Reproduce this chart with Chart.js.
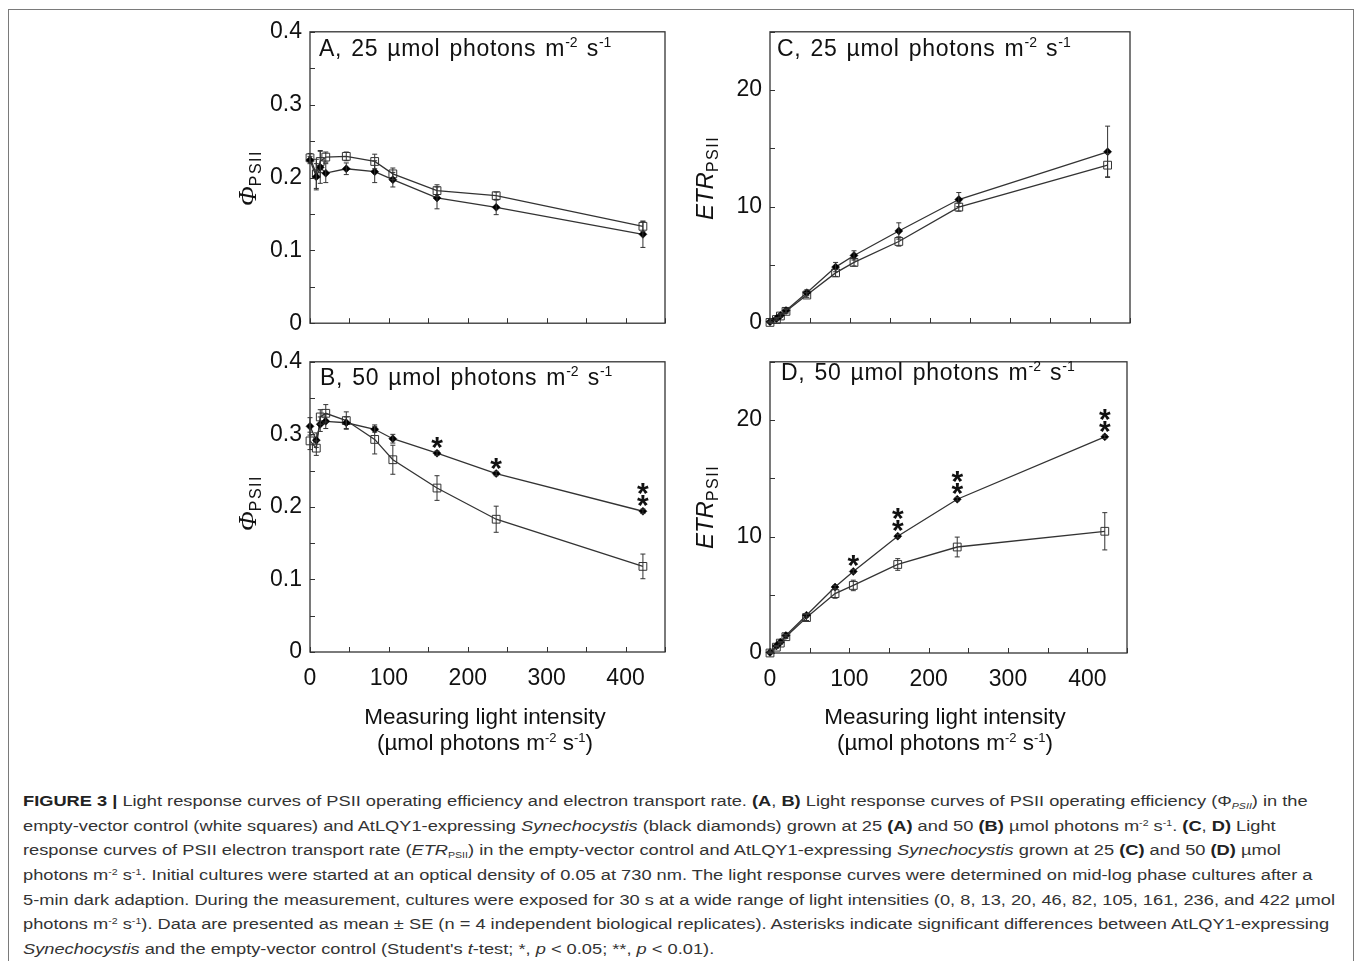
<!DOCTYPE html>
<html>
<head>
<meta charset="utf-8">
<script src="https://cdn.jsdelivr.net/npm/chart.js@4.4.1/dist/chart.umd.min.js"></script>
<style>
  html, body { margin: 0; padding: 0; background: #fff; }
  body { width: 1355px; height: 961px; overflow: hidden; position: relative; font-family: "Liberation Sans", Arial, sans-serif; color: #111; }
  .frame { position: absolute; left: 8px; top: 9px; width: 1346px; height: 1000px; border: 1px solid #7a7a7a; box-sizing: border-box; }
  canvas { position: absolute; }
  .ptitle { position: absolute; font-size: 23px; line-height: 23px; letter-spacing: 0.7px; word-spacing: 2px; white-space: nowrap; }
  .sup { font-size: 14px; position: relative; top: -9px; letter-spacing: 0; }
  .ylab { position: absolute; white-space: nowrap; transform: translate(-50%, -50%) rotate(-90deg); }
  .ylab .phi { font-family: "Liberation Serif", serif; font-style: italic; font-size: 26px; }
  .ylab .etr { font-style: italic; font-size: 24px; }
  .ylab .sub { font-size: 16px; position: relative; top: 5px; letter-spacing: 1.5px; }
  .xlab { position: absolute; width: 400px; text-align: center; font-size: 22.5px; line-height: 26px; white-space: nowrap; }
  .xlab .sup { font-size: 13px; top: -8px; }
  .caption { position: absolute; left: 23px; top: 789px; font-size: 15.5px; line-height: 24.7px; color: #333; transform-origin: 0 0; }
  .caption div { white-space: nowrap; height: 24.7px; }
  .caption .line { display: inline-block; vertical-align: top; }
  .caption b { color: #222; }
  .caption .csup { font-size: 9px; position: relative; top: -5px; }
  .caption .csub { font-size: 9px; position: relative; top: 3px; }
</style>
</head>
<body>
<div class="frame"></div>

<canvas id="chartA" width="460" height="335" style="left:220px; top:10px;"></canvas>
<canvas id="chartB" width="460" height="370" style="left:220px; top:340px;"></canvas>
<canvas id="chartC" width="465" height="335" style="left:680px; top:10px;"></canvas>
<canvas id="chartD" width="465" height="370" style="left:680px; top:340px;"></canvas>

<div class="ptitle" style="left:319px; top:37px;">A, 25 µmol photons m<span class="sup">-2</span> s<span class="sup">-1</span></div>
<div class="ptitle" style="left:320px; top:366px;">B, 50 µmol photons m<span class="sup">-2</span> s<span class="sup">-1</span></div>
<div class="ptitle" style="left:777px; top:37px;">C, 25 µmol photons m<span class="sup">-2</span> s<span class="sup">-1</span></div>
<div class="ptitle" style="left:781px; top:361px;">D, 50 µmol photons m<span class="sup">-2</span> s<span class="sup">-1</span></div>

<div class="ylab" style="left:248px; top:178px;"><span class="phi">Φ</span><span class="sub">PSII</span></div>
<div class="ylab" style="left:248px; top:503px;"><span class="phi">Φ</span><span class="sub">PSII</span></div>
<div class="ylab" style="left:705px; top:178px;"><span class="etr">ETR</span><span class="sub">PSII</span></div>
<div class="ylab" style="left:705px; top:507px;"><span class="etr">ETR</span><span class="sub">PSII</span></div>

<div class="xlab" style="left:285px; top:704px;">Measuring light intensity<br>(µmol photons m<span class="sup">-2</span> s<span class="sup">-1</span>)</div>
<div class="xlab" style="left:745px; top:704px;">Measuring light intensity<br>(µmol photons m<span class="sup">-2</span> s<span class="sup">-1</span>)</div>

<div class="caption" id="caption">
  <div><span class="line"><b>FIGURE 3 |</b> Light response curves of PSII operating efficiency and electron transport rate. <b>(A</b>, <b>B)</b> Light response curves of PSII operating efficiency (Φ<span class="csub"><i>PSII</i></span>) in the</span></div>
  <div><span class="line">empty-vector control (white squares) and AtLQY1-expressing <i>Synechocystis</i> (black diamonds) grown at 25 <b>(A)</b> and 50 <b>(B)</b> µmol photons m<span class="csup">-2</span> s<span class="csup">-1</span>. <b>(C</b>, <b>D)</b> Light</span></div>
  <div><span class="line">response curves of PSII electron transport rate (<i>ETR</i><span class="csub">PSII</span>) in the empty-vector control and AtLQY1-expressing <i>Synechocystis</i> grown at 25 <b>(C)</b> and 50 <b>(D)</b> µmol</span></div>
  <div><span class="line">photons m<span class="csup">-2</span> s<span class="csup">-1</span>. Initial cultures were started at an optical density of 0.05 at 730 nm. The light response curves were determined on mid-log phase cultures after a</span></div>
  <div><span class="line" id="longLine">5-min dark adaption. During the measurement, cultures were exposed for 30 s at a wide range of light intensities (0, 8, 13, 20, 46, 82, 105, 161, 236, and 422 µmol</span></div>
  <div><span class="line">photons m<span class="csup">-2</span> s<span class="csup">-1</span>). Data are presented as mean ± SE (n = 4 independent biological replicates). Asterisks indicate significant differences between AtLQY1-expressing</span></div>
  <div><span class="line"><i>Synechocystis</i> and the empty-vector control (Student's <i>t</i>-test; *, <i>p</i> &lt; 0.05; **, <i>p</i> &lt; 0.01).</span></div>
</div>

<script>
// measuring light intensities (µmol photons m-2 s-1)
const lightLevels = [0, 8, 13, 20, 46, 82, 105, 161, 236, 422];

// A: PhiPSII, grown at 25
const phiA_vector   = [0.227, 0.205, 0.222, 0.228, 0.229, 0.222, 0.205, 0.182, 0.175, 0.133];
const phiA_vectorSE = [0.006, 0.020, 0.015, 0.007, 0.006, 0.010, 0.008, 0.008, 0.005, 0.007];
const phiA_lqy1     = [0.224, 0.201, 0.214, 0.206, 0.212, 0.208, 0.197, 0.172, 0.159, 0.122];
const phiA_lqy1SE   = [0.005, 0.018, 0.022, 0.013, 0.008, 0.015, 0.010, 0.015, 0.010, 0.018];

// B: PhiPSII, grown at 50
const phiB_vector   = [0.291, 0.281, 0.324, 0.329, 0.319, 0.293, 0.265, 0.226, 0.183, 0.118];
const phiB_vectorSE = [0.012, 0.010, 0.010, 0.012, 0.012, 0.020, 0.020, 0.017, 0.018, 0.017];
const phiB_lqy1     = [0.311, 0.292, 0.314, 0.318, 0.316, 0.307, 0.294, 0.274, 0.246, 0.194];
const phiB_lqy1SE   = [0.012, 0.010, 0.010, 0.010, 0.008, 0.004, 0.006, 0.003, 0.003, 0.003];
const phiB_stars    = ['', '', '', '', '', '', '', '*', '*', '**'];

// C: ETRPSII, grown at 25
const etrC_vector   = [0.05, 0.30, 0.60, 1.00, 2.40, 4.30, 5.20, 7.00, 9.95, 13.55];
const etrC_vectorSE = [0.05, 0.10, 0.10, 0.15, 0.20, 0.30, 0.30, 0.40, 0.35, 1.00];
const etrC_lqy1     = [0.10, 0.37, 0.65, 1.07, 2.60, 4.80, 5.80, 7.90, 10.60, 14.70];
const etrC_lqy1SE   = [0.05, 0.10, 0.15, 0.20, 0.25, 0.40, 0.40, 0.70, 0.60, 2.20];

// D: ETRPSII, grown at 50
const etrD_vector   = [0.00, 0.50, 0.85, 1.40, 3.04, 5.10, 5.80, 7.60, 9.10, 10.45];
const etrD_vectorSE = [0.05, 0.10, 0.10, 0.15, 0.25, 0.40, 0.45, 0.50, 0.85, 1.60];
const etrD_lqy1     = [0.05, 0.60, 0.93, 1.50, 3.24, 5.66, 7.00, 10.03, 13.20, 18.56];
const etrD_lqy1SE   = [0.05, 0.05, 0.05, 0.10, 0.15, 0.15, 0.15, 0.15, 0.15, 0.15];
const etrD_stars    = ['', '', '', '', '', '', '*', '**', '**', '**'];

// axis ticks
const xTickStep = 50;
const xLabelStep = 100;
const phiTicks = { max: 0.4, step: 0.05, labelStep: 0.1 };
const etrTicks = { max: 25, step: 5, labelStep: 10 };

const INK = '#333';

// box around plot area + inward tick marks
const frameTicks = {
    id: 'frameTicks',
    afterDraw(chart) {
        const { ctx, chartArea: a, scales } = chart;
        ctx.save();
        ctx.strokeStyle = INK;
        ctx.lineWidth = 1;
        ctx.beginPath();
        scales.x.ticks.forEach(t => {
            const px = Math.round(scales.x.getPixelForValue(t.value)) + 0.5;
            ctx.moveTo(px, a.bottom);
            ctx.lineTo(px, a.bottom - 5);
        });
        scales.y.ticks.forEach(t => {
            const py = Math.round(scales.y.getPixelForValue(t.value)) + 0.5;
            ctx.moveTo(a.left, py);
            ctx.lineTo(a.left + 5, py);
        });
        ctx.stroke();
        ctx.lineWidth = 1.3;
        ctx.strokeRect(a.left, a.top, a.right - a.left, a.bottom - a.top);
        ctx.restore();
    }
};

// SE bars and significance stars
const errorBars = {
    id: 'errorBars',
    afterDatasetsDraw(chart) {
        const { ctx, scales } = chart;
        ctx.save();
        chart.data.datasets.forEach(ds => {
            ds.data.forEach((p, i) => {
                const px = scales.x.getPixelForValue(p.x);
                const se = ds.se ? ds.se[i] : 0;
                if (se) {
                    const yTop = scales.y.getPixelForValue(p.y + se);
                    const yBot = scales.y.getPixelForValue(p.y - se);
                    ctx.strokeStyle = INK;
                    ctx.lineWidth = 1;
                    ctx.beginPath();
                    ctx.moveTo(px, yTop); ctx.lineTo(px, yBot);
                    ctx.moveTo(px - 2.5, yTop); ctx.lineTo(px + 2.5, yTop);
                    ctx.moveTo(px - 2.5, yBot); ctx.lineTo(px + 2.5, yBot);
                    ctx.stroke();
                }
                const star = ds.stars ? ds.stars[i] : '';
                if (star) {
                    const py = scales.y.getPixelForValue(p.y);
                    ctx.fillStyle = '#111';
                    ctx.font = 'bold 30px "Liberation Sans", Arial, sans-serif';
                    ctx.textAlign = 'center';
                    ctx.textBaseline = 'alphabetic';
                    for (let k = 0; k < star.length; k++) {
                        ctx.fillText('*', px, py + 4 - k * 12);
                    }
                }
            });
        });
        ctx.restore();
    }
};

const toPoints = vals => vals.map((v, i) => ({ x: lightLevels[i], y: v }));

function makePanel(id, opts) {
    const el = document.getElementById(id);
    const tickFont = { family: '"Liberation Sans", Arial, sans-serif', size: 23 };
    return new Chart(el, {
        type: 'line',
        data: {
            datasets: [
                {
                    label: 'AtLQY1',
                    data: toPoints(opts.lqy1),
                    se: opts.lqy1SE,
                    stars: opts.stars,
                    borderColor: INK,
                    borderWidth: 1.3,
                    pointStyle: 'rectRot',
                    pointRadius: 4,
                    pointBackgroundColor: '#000',
                    pointBorderColor: '#000',
                    pointBorderWidth: 0.5,
                    tension: 0,
                    clip: false
                },
                {
                    label: 'empty vector',
                    data: toPoints(opts.vector),
                    se: opts.vectorSE,
                    borderColor: INK,
                    borderWidth: 1.3,
                    pointStyle: 'rect',
                    pointRadius: 5.5,
                    pointBackgroundColor: 'rgba(255,255,255,0)',
                    pointBorderColor: INK,
                    pointBorderWidth: 1,
                    tension: 0,
                    clip: false
                }
            ]
        },
        options: {
            responsive: false,
            animation: false,
            devicePixelRatio: 1,
            layout: { autoPadding: false, padding: opts.padding },
            plugins: { legend: { display: false }, tooltip: { enabled: false } },
            scales: {
                x: {
                    type: 'linear',
                    min: 0,
                    max: 450,
                    grid: { display: false, drawTicks: false },
                    border: { display: false },
                    afterFit: s => { s.height = opts.xHeight; },
                    ticks: {
                        stepSize: xTickStep,
                        autoSkip: false,
                        maxRotation: 0,
                        padding: 13,
                        color: '#111',
                        font: tickFont,
                        callback: v => (opts.xLabels && v % xLabelStep === 0) ? String(v) : ''
                    }
                },
                y: {
                    min: 0,
                    max: opts.yTicks.max,
                    grid: { display: false, drawTicks: false },
                    border: { display: false },
                    afterFit: s => { s.width = 90; },
                    ticks: {
                        stepSize: opts.yTicks.step,
                        autoSkip: false,
                        padding: 8,
                        color: '#111',
                        font: tickFont,
                        callback: v => {
                            const r = Math.round(v / opts.yTicks.step);
                            const every = Math.round(opts.yTicks.labelStep / opts.yTicks.step);
                            if (r % every !== 0) return '';
                            const n = r * opts.yTicks.step;
                            return n === 0 ? '0' : (opts.yTicks.max < 1 ? n.toFixed(1) : String(Math.round(n)));
                        }
                    }
                }
            }
        },
        plugins: [frameTicks, errorBars]
    });
}

makePanel('chartA', {
    vector: phiA_vector, vectorSE: phiA_vectorSE, lqy1: phiA_lqy1, lqy1SE: phiA_lqy1SE,
    yTicks: phiTicks, xLabels: false, xHeight: 20, padding: { top: 18, right: 15, left: 0, bottom: 0 }
});
makePanel('chartB', {
    vector: phiB_vector, vectorSE: phiB_vectorSE, lqy1: phiB_lqy1, lqy1SE: phiB_lqy1SE, stars: phiB_stars,
    yTicks: phiTicks, xLabels: true, xHeight: 58, padding: { top: 15, right: 15, left: 0, bottom: 0 }
});
makePanel('chartC', {
    vector: etrC_vector, vectorSE: etrC_vectorSE, lqy1: etrC_lqy1, lqy1SE: etrC_lqy1SE,
    yTicks: etrTicks, xLabels: false, xHeight: 22, padding: { top: 18, right: 15, left: 0, bottom: 0 }
});
makePanel('chartD', {
    vector: etrD_vector, vectorSE: etrD_vectorSE, lqy1: etrD_lqy1, lqy1SE: etrD_lqy1SE, stars: etrD_stars,
    yTicks: etrTicks, xLabels: true, xHeight: 57, padding: { top: 17, right: 18, left: 0, bottom: 0 }
});

// squeeze the caption to the condensed width of the original
const cap = document.getElementById('caption');
const longW = document.getElementById('longLine').getBoundingClientRect().width;
cap.style.transform = 'scaleX(' + (1312 / longW) + ')';
</script>
</body>
</html>
